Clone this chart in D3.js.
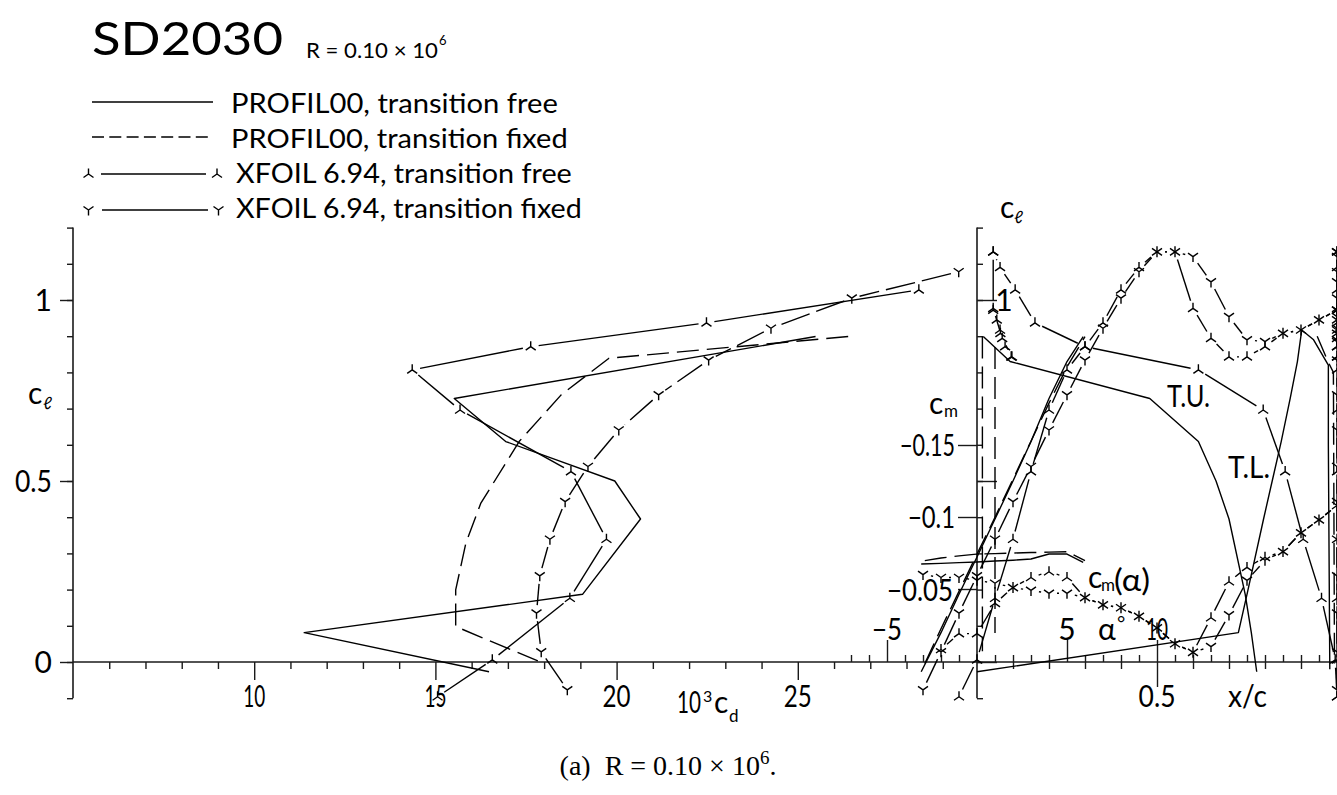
<!DOCTYPE html>
<html><head><meta charset="utf-8">
<script src="https://cdn.jsdelivr.net/npm/d3@7"></script>
<style>
html,body{margin:0;padding:0;background:#fff;}
svg{display:block;}
text{font-family:Lato,"Liberation Sans",Arial,sans-serif;font-weight:400;fill:#000;}
</style></head><body>
<svg id="c" width="1337" height="795"></svg>
<script>
// ---------------- DATA ----------------
// Drag polar: 10^3 cd vs cl
const dragFreeCd  = [25.49, 15.52, 16.94, 19.95, 20.66, 19.06, 11.38, 16.48];
const dragFreeCl  = [0.899, 0.728, 0.609, 0.500, 0.395, 0.187, 0.081, -0.027];
const dragFixedCd = [26.39, 19.79, 18.47, 17.31, 16.25, 15.84, 15.56, 15.56, 17.99];
const dragFixedCl = [0.899, 0.839, 0.738, 0.609, 0.438, 0.328, 0.199, 0.098, -0.004];
const xfDragFreeCd  = [28.34, 22.48, 17.63, 14.36, 15.68, 18.74, 19.72, 18.71, 16.57, 15.06];
const xfDragFreeCl  = [1.028, 0.937, 0.871, 0.807, 0.696, 0.526, 0.339, 0.176, 0.006, -0.096];
const xfDragFixedCd = [29.44, 26.49, 24.26, 22.54, 21.16, 20.06, 19.21, 18.58, 18.16, 17.88, 17.79, 17.92, 18.64];
const xfDragFixedCl = [1.078, 1.005, 0.922, 0.834, 0.738, 0.641, 0.540, 0.443, 0.339, 0.238, 0.135, 0.028, -0.077];

// Lift curves cl(alpha)
const liftFreeAlpha  = [-3.1, -2, -1, 0, 1, 2, 3, 4, 5, 5.9];
const liftFreeCl     = [-0.027, 0.081, 0.187, 0.29, 0.395, 0.5, 0.609, 0.728, 0.83, 0.899];
const liftFixedAlpha = [-2.9, -2, -1, 0, 1, 2, 3, 4, 5, 6];
const liftFixedCl    = [-0.004, 0.092, 0.195, 0.298, 0.40, 0.505, 0.61, 0.715, 0.815, 0.899];
const xfAlphaFree  = [-1, 0, 1, 2, 3, 4, 5, 6, 7, 8, 9, 10, 11, 12, 13, 14, 15, 16, 17, 18, 19, 20];
const xfLiftFree   = [-0.096, 0.006, 0.176, 0.339, 0.526, 0.696, 0.807, 0.871, 0.937, 1.028, 1.09, 1.133, 1.133, 0.977, 0.894, 0.843, 0.843, 0.871, 0.908, 0.917, 0.945, 0.972];
const xfAlphaFixed = [-3, -2, -1, 0, 1, 2, 3, 4, 5, 6, 7, 8, 9, 10, 11, 12, 13, 14, 15, 16, 17, 18, 19, 20];
const xfLiftFixed  = [-0.077, 0.028, 0.135, 0.238, 0.339, 0.443, 0.540, 0.641, 0.738, 0.834, 0.922, 1.005, 1.078, 1.133, 1.133, 1.12, 1.05, 0.954, 0.89, 0.885, 0.908, 0.917, 0.945, 0.972];

// Moment curves cm(alpha)
const cmFreeAlpha  = [-3.1, -2, -1, 0, 1, 2, 3, 4, 5, 5.9];
const cmFree       = [-0.0674, -0.0678, -0.0683, -0.0688, -0.0694, -0.0700, -0.0708, -0.0743, -0.0743, -0.0685];
const cmFixedAlpha = [-2.9, -2, -1, 0, 1, 2, 3, 4, 5, 6];
const cmFixed      = [-0.0697, -0.0715, -0.0730, -0.0743, -0.0746, -0.0750, -0.0753, -0.0756, -0.0759, -0.0697];
const xfCmAlphaFree = [-2, -1, 0, 1, 2, 3, 4, 5, 6, 7, 8, 9, 10, 11, 12, 13, 14, 15, 16, 17, 18, 19, 20];
const xfCmFree      = [-0.008, -0.019, -0.019, -0.040, -0.051, -0.058, -0.062, -0.058, -0.044, -0.039, -0.037, -0.031, -0.023, -0.012, -0.006, -0.030, -0.055, -0.065, -0.072, -0.076, -0.089, -0.098, -0.108];
const xfCmFixed     = [-0.060, -0.058, -0.058, -0.056, -0.054, -0.051, -0.049, -0.047, -0.047, -0.044, -0.039, -0.037, -0.031, -0.023, -0.012, -0.006, -0.010, -0.032, -0.056, -0.070, -0.076, -0.089, -0.098, -0.108];

// Transition locations x/c vs cl
const tuFreeXc = [0.0175, 0.092, 0.48, 0.615, 0.664, 0.70, 0.745, 0.762, 0.777];
const tuFreeCl = [0.899, 0.83, 0.728, 0.609, 0.5, 0.395, 0.187, 0.081, -0.027];
const tlFreeXc = [0, 0.726, 0.75, 0.796, 0.82, 0.845, 0.87, 0.89, 0.902, 0.935, 0.976, 0.976, 0.98];
const tlFreeCl = [-0.027, 0.081, 0.187, 0.395, 0.5, 0.609, 0.728, 0.83, 0.917, 0.89, 0.82, 0.6, -0.02];
const tripUpperXc = [0.015, 0.015];
const tripUpperCl = [0.899, 0.03];
const tripLowerXc = [0.05, 0.05];
const tripLowerCl = [0.87, 0.08];
const fixedTeXc = [0.945, 0.975, 0.99, 0.993];
const fixedTeCl = [0.90, 0.83, 0.80, -0.004];
const xfTuFreeXc = [1.0, 0.995, 0.957, 0.906, 0.856, 0.795, 0.615, 0.30, 0.161, 0.106, 0.064, 0.045, 0.045, 0.045, 0.07, 0.097, 0.095, 0.078, 0.065, 0.064, 0.055, 0.045];
const xfTlFreeXc = [1, 1, 1, 1, 1, 1, 1, 1, 1, 1, 1, 1, 1, 1, 1, 1, 1, 1, 1, 1, 1, 1];
const xfTlFixedXc = [1, 1, 1, 1, 1, 1, 1, 1, 1, 1, 1, 1, 1, 1, 1, 1, 1, 1, 1, 1, 1, 1, 1, 1];

// Tick values / labels
const clMinorTicks = [-0.1, 0, 0.1, 0.2, 0.3, 0.4, 0.5, 0.6, 0.7, 0.8, 0.9, 1.0, 1.1, 1.2];
const clMajorTicks = [0, 0.5, 1];
const cdMinorTicks = [6, 7, 8, 9, 11, 12, 13, 14, 16, 17, 18, 19, 21, 22, 23, 24, 26, 27, 28, 29];
const cdMajorTicks = [10, 15, 20, 25];
const alphaMinorTicks = [-7, -6, -4, -3, -2, -1, 1, 2, 3, 4, 6, 7, 8, 9, 11, 12, 13, 14, 15, 16, 17, 18, 19];
const alphaMajorTicks = [-5, 5, 10];
const xcMinorTicks = [0.1, 0.2, 0.3, 0.4, 0.6, 0.7, 0.8, 0.9];
const xcMajorTicks = [0.5];
const cmTicks = [-0.05, -0.1, -0.15];

// ---------------- SCALES ----------------
const yCl = d3.scaleLinear().domain([-0.1, 1.2]).range([698.2, 227.6]);
const xCd = d3.scaleLinear().domain([5, 30]).range([73, 979]);
const xAl = d3.scaleLinear().domain([-7, 20]).range([851, 1337]);
const yCm = d3.scaleLinear().domain([0, -0.15]).range([661, 445]);
const xXc = d3.scaleLinear().domain([0, 1]).range([977, 1337]);

const svg = d3.select('#c');
svg.append('rect').attr('width',1337).attr('height',795).attr('fill','#fff');
const defs = svg.append('defs');
defs.append('clipPath').attr('id','clipL').append('rect').attr('x',73).attr('y',215).attr('width',906).attr('height',490);

// ---------------- HELPERS ----------------
function T(g, x, y, s, o = {}) {
  const gg = g.append('g').attr('transform', `translate(${x},${y})`);
  const t = gg.append('text').attr('x', 0).attr('y', 0).text(s)
    .attr('font-size', o.size || 30).attr('text-anchor', o.anchor || 'start');
  if (o.w) {
    const L = t.node().getComputedTextLength();
    if (L > 0) t.attr('transform', `scale(${(o.w / L).toFixed(4)},1)`);
  }
  return t;
}
function ticks(axisFn, scale, vals, size, transform) {
  const g = svg.append('g').attr('transform', transform)
    .call(axisFn(scale).tickValues(vals).tickSize(size).tickFormat('').tickSizeOuter(0));
  g.select('.domain').remove();
  g.selectAll('line').attr('stroke', '#1a1a1a').attr('stroke-width', 1.4);
  g.selectAll('text').remove();
}
const line = d3.line();
function plain(g, pts, dash) {
  g.append('path').attr('d', line(pts)).attr('fill', 'none').attr('stroke', '#000')
    .attr('stroke-width', 1.4).attr('stroke-dasharray', dash || null).attr('stroke-linejoin','round');
}
function trimmed(g, pts, r, dash) {
  for (let i = 0; i < pts.length - 1; i++) {
    const [x1, y1] = pts[i], [x2, y2] = pts[i + 1];
    const dx = x2 - x1, dy = y2 - y1, d = Math.hypot(dx, dy);
    if (d <= 2 * r + 1) continue;
    const ux = dx / d, uy = dy / d;
    g.append('path').attr('d', line([[x1 + ux * r, y1 + uy * r], [x2 - ux * r, y2 - uy * r]]))
      .attr('fill', 'none').attr('stroke', '#000').attr('stroke-width', 1.4)
      .attr('stroke-dasharray', dash || null);
  }
}
function marker(g, x, y, type) {
  const d = type === 'up'
    ? `M${x},${y}V${y - 5.5}M${x},${y}L${x - 5},${y + 3.5}M${x},${y}L${x + 5},${y + 3.5}`
    : `M${x},${y}V${y + 5.5}M${x},${y}L${x - 5},${y - 3.5}M${x},${y}L${x + 5},${y - 3.5}`;
  g.append('path').attr('d', d).attr('fill', 'none').attr('stroke', '#000').attr('stroke-width', 1.4);
}
function series(g, pts, type, dash) {
  trimmed(g, pts, 8, dash);
  pts.forEach(p => marker(g, p[0], p[1], type));
}
const zipPts = (xs, ys, sx, sy) => xs.map((v, i) => [sx(v), sy(ys[i])]);
const XF_FIXED_DASH = '30,7';
const PF_FIXED_DASH = '22,8';

// ---------------- AXES ----------------
const axG = svg.append('g').attr('stroke', '#1a1a1a').attr('stroke-width', 1.6);
axG.append('line').attr('x1', 73).attr('x2', 73).attr('y1', yCl(1.2)).attr('y2', yCl(-0.1));
axG.append('line').attr('x1', 73).attr('x2', 1337).attr('y1', yCl(0)).attr('y2', yCl(0));
axG.append('line').attr('x1', 977).attr('x2', 977).attr('y1', yCl(1.2)).attr('y2', yCl(-0.1));

ticks(d3.axisLeft, yCl, clMinorTicks, 6, 'translate(73,0)');
ticks(d3.axisLeft, yCl, clMajorTicks, 13, 'translate(73,0)');
ticks(d3.axisBottom, xCd, cdMinorTicks, 7, `translate(0,${yCl(0)})`);
ticks(d3.axisBottom, xCd, cdMajorTicks, 18, `translate(0,${yCl(0)})`);
ticks(d3.axisTop, xAl, alphaMinorTicks, 7, `translate(0,${yCl(0)})`);
ticks(d3.axisTop, xAl, alphaMajorTicks, 22, `translate(0,${yCl(0)})`);
ticks(d3.axisBottom, xXc, xcMinorTicks, 7, `translate(0,${yCl(0)})`);
ticks(d3.axisBottom, xXc, xcMajorTicks, 25, `translate(0,${yCl(0)})`);
ticks(d3.axisRight, yCl, clMinorTicks, 6, 'translate(977,0)');
ticks(d3.axisRight, yCl, clMajorTicks, 20, 'translate(977,0)');
ticks(d3.axisLeft, yCm, cmTicks, 19, 'translate(977,0)');

// ---------------- LEFT PANEL: drag polar ----------------
const gL = svg.append('g').attr('clip-path', 'url(#clipL)');
plain(gL, zipPts(dragFreeCd, dragFreeCl, xCd, yCl));
plain(gL, zipPts(dragFixedCd, dragFixedCl, xCd, yCl), PF_FIXED_DASH);
series(gL, zipPts(xfDragFreeCd, xfDragFreeCl, xCd, yCl), 'up');
series(gL, zipPts(xfDragFixedCd, xfDragFixedCl, xCd, yCl), 'down', XF_FIXED_DASH);

// ---------------- MIDDLE PANEL: cl(alpha), cm(alpha) ----------------
const gM = svg.append('g');
plain(gM, zipPts(liftFreeAlpha, liftFreeCl, xAl, yCl));
plain(gM, zipPts(liftFixedAlpha, liftFixedCl, xAl, yCl), PF_FIXED_DASH);
series(gM, zipPts(xfAlphaFree, xfLiftFree, xAl, yCl), 'up');
series(gM, zipPts(xfAlphaFixed, xfLiftFixed, xAl, yCl), 'down', XF_FIXED_DASH);
plain(gM, zipPts(cmFreeAlpha, cmFree, xAl, yCm));
plain(gM, zipPts(cmFixedAlpha, cmFixed, xAl, yCm), PF_FIXED_DASH);
series(gM, zipPts(xfCmAlphaFree, xfCmFree, xAl, yCm), 'up');
series(gM, zipPts(xfAlphaFixed, xfCmFixed, xAl, yCm), 'down', XF_FIXED_DASH);

// ---------------- RIGHT PANEL: transition x/c vs cl ----------------
const gR = svg.append('g');
plain(gR, zipPts(tuFreeXc, tuFreeCl, xXc, yCl));
plain(gR, zipPts(tlFreeXc, tlFreeCl, xXc, yCl));
plain(gR, zipPts(tripUpperXc, tripUpperCl, xXc, yCl), PF_FIXED_DASH);
plain(gR, zipPts(tripLowerXc, tripLowerCl, xXc, yCl), PF_FIXED_DASH);
plain(gR, zipPts(fixedTeXc, fixedTeCl, xXc, yCl), PF_FIXED_DASH);
series(gR, zipPts(xfTuFreeXc, xfLiftFree, xXc, yCl), 'up');
series(gR, zipPts(xfTlFreeXc, xfLiftFree, xXc, yCl), 'up');
series(gR, zipPts(xfTlFixedXc, xfLiftFixed, xXc, yCl), 'down', XF_FIXED_DASH);

// ---------------- TEXT ----------------
const gT = svg.append('g');
T(gT, 92, 55, 'SD2030', {size: 46, w: 191});
T(gT, 306, 58, 'R = 0.10 × 10', {size: 21, w: 132});
T(gT, 439, 45, '6', {size: 13});

// legend
const lg = svg.append('g');
plain(lg, [[92, 102], [213, 102]]);
plain(lg, [[92, 137], [213, 137]], '12,5.3');
plain(lg, [[101, 174], [206, 174]]);
marker(lg, 88.5, 174, 'up'); marker(lg, 217, 174, 'up');
plain(lg, [[102, 210], [208, 210]]);
marker(lg, 88.5, 210, 'down'); marker(lg, 218.5, 210, 'down');
T(gT, 231, 113, 'PROFIL00, transition free', {size: 26, w: 327});
T(gT, 231, 148, 'PROFIL00, transition fixed', {size: 26, w: 337});
T(gT, 236, 183, 'XFOIL 6.94, transition free', {size: 26, w: 336});
T(gT, 236, 218, 'XFOIL 6.94, transition fixed', {size: 26, w: 346});

// left axis labels
T(gT, 52, yCl(1) + 11, '1', {anchor: 'end'});
T(gT, 52, yCl(0.5) + 11, '0.5', {anchor: 'end', w: 37});
T(gT, 52, yCl(0) + 11, '0', {anchor: 'end'});
T(gT, 28, 404, 'c', {size: 30});
T(gT, 43, 409, 'ℓ', {size: 17});
cdMajorTicks.forEach(v => T(gT, xCd(v), 707, String(v), {anchor: 'middle', w: v === 10 || v === 15 ? 22 : 28}));
T(gT, 677, 713, '10', {size: 30, w: 24});
T(gT, 703, 702, '3', {size: 16});
T(gT, 714, 713, 'c', {size: 30});
T(gT, 729, 722, 'd', {size: 17});

// middle labels
T(gT, 1000, 218, 'c', {size: 30});
T(gT, 1014, 223, 'ℓ', {size: 17});
T(gT, 1004, 311, '1', {anchor: 'middle'});
T(gT, 929, 414, 'c', {size: 30});
T(gT, 944, 417, 'm', {size: 17});
T(gT, 955, 456, '−0.15', {anchor: 'end', w: 55});
T(gT, 955, 528, '−0.1', {anchor: 'end', w: 47});
T(gT, 953, 601, '−0.05', {anchor: 'end', w: 66});
T(gT, xAl(-5), 640, '−5', {anchor: 'middle', w: 30});
T(gT, xAl(5), 640, '5', {anchor: 'middle'});
T(gT, 1098, 640, 'α', {size: 30});
T(gT, 1117, 630, '°', {size: 20});
T(gT, xAl(10), 640, '10', {anchor: 'middle', w: 22});
T(gT, 1088, 588, 'c', {size: 30});
T(gT, 1101, 591, 'm', {size: 17});
T(gT, 1114, 591, '(α)', {size: 30, w: 36});

// right labels
T(gT, xXc(0.5), 707, '0.5', {anchor: 'middle', w: 37});
T(gT, 1228, 707, 'x/c', {w: 39});
T(gT, 1167, 407, 'T.U.', {w: 43});
T(gT, 1228, 478, 'T.L.', {w: 42});

// caption
const cap = gT.append('text').attr('x', 668).attr('y', 775).attr('text-anchor', 'middle')
  .style('font-family', '"Liberation Serif","Times New Roman",serif').style('font-weight', 400)
  .attr('font-size', 28);
cap.append('tspan').text('(a)\u00A0\u00A0R = 0.10 × 10');
cap.append('tspan').attr('dy', -11).attr('font-size', 19).text('6');
cap.append('tspan').attr('dy', 11).text('.');
</script>
</body></html>
